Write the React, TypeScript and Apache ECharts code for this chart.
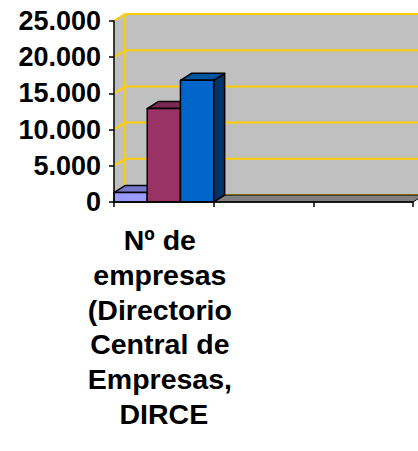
import React, { useEffect, useRef } from "react";
import * as echarts from "echarts";

const categories = ["Nº de empresas (Directorio Central de Empresas, DIRCE", "", ""];
const seriesNames = ["Serie 1", "Serie 2", "Serie 3"];
const serie1 = [1300];
const serie2 = [12900];
const serie3 = [16800];
const yTicks = [0, 5000, 10000, 15000, 20000, 25000];

const frontColors = ["#9999FF", "#993366", "#0066CC"];
const topColors = ["#7777CC", "#7A2952", "#0052A3"];
const sideColors = ["#4C4C80", "#4D1A33", "#003366"];

const DX = 11;
const DY = 7;
const FONT = "Liberation Sans";

function fmt(v: number) {
  return String(v).replace(/\B(?=(\d{3})+(?!\d))/g, ".");
}

export default function App() {
  const ref = useRef<HTMLDivElement>(null);
  useEffect(() => {
    if (!ref.current) return;
    const chart = echarts.init(ref.current, null, { renderer: "svg" });
    const allSeries = [serie1, serie2, serie3];
    const nSeries = allSeries.length;

    const wallSeries = {
      type: "custom",
      z: 1,
      silent: true,
      data: [[0, 0]],
      renderItem: (params: any, api: any) => {
        const band = api.size([1, 0])[0];
        const nCat = categories.length;
        const left = api.coord([0, 0])[0] - band / 2;
        const right = api.coord([nCat - 1, 0])[0] + band / 2;
        const y0 = api.coord([0, yTicks[0]])[1];
        const yTop = api.coord([0, yTicks[yTicks.length - 1]])[1];
        const children: any[] = [];
        children.push({
          type: "rect",
          shape: { x: left + DX, y: yTop - DY, width: right - left, height: y0 - yTop },
          style: { fill: "#C0C0C0" },
        });
        children.push({
          type: "polygon",
          shape: { points: [[left, y0], [left, yTop], [left + DX, yTop - DY], [left + DX, y0 - DY]] },
          style: { fill: "#C0C0C0" },
        });
        yTicks.forEach((t) => {
          const y = api.coord([0, t])[1];
          children.push({
            type: "polyline",
            shape: { points: [[left, y], [left + DX, y - DY], [right + DX, y - DY]] },
            style: { stroke: "#FFCC00", lineWidth: 2, fill: "none" },
          });
        });
        children.push({
          type: "line",
          shape: { x1: left + DX, y1: yTop - DY, x2: left + DX, y2: y0 - DY },
          style: { stroke: "#FFCC00", lineWidth: 2 },
        });
        children.push({
          type: "polygon",
          shape: { points: [[left, y0], [right, y0], [right + DX, y0 - DY], [left + DX, y0 - DY]] },
          style: { fill: "#808080", stroke: "#000", lineWidth: 1 },
        });
        return { type: "group", children };
      },
    };

    const barSeries = allSeries.map((vals, i) => ({
      type: "custom",
      name: seriesNames[i],
      z: 3 + i,
      encode: { x: 0, y: 1 },
      data: vals.map((v, c) => [c, v]),
      renderItem: (params: any, api: any) => {
        const c = api.value(0);
        const v = api.value(1);
        const base = api.coord([c, 0]);
        const top = api.coord([c, v]);
        const band = api.size([1, 0])[0];
        const bw = band / nSeries;
        const x0 = base[0] - band / 2 + i * bw;
        const x1 = x0 + bw;
        const yb = base[1];
        const yt = top[1];
        const stroke = { stroke: "#000", lineWidth: 1.5, lineJoin: "round" };
        return {
          type: "group",
          children: [
            {
              type: "polygon",
              shape: { points: [[x1, yt], [x1 + DX, yt - DY], [x1 + DX, yb - DY], [x1, yb]] },
              style: { fill: sideColors[i], ...stroke },
            },
            {
              type: "polygon",
              shape: { points: [[x0, yt], [x1, yt], [x1 + DX, yt - DY], [x0 + DX, yt - DY]] },
              style: { fill: topColors[i], ...stroke },
            },
            {
              type: "rect",
              shape: { x: x0, y: yt, width: bw, height: yb - yt },
              style: { fill: frontColors[i], ...stroke },
            },
          ],
        };
      },
    }));

    chart.setOption({
      animation: false,
      backgroundColor: "#FFFFFF",
      grid: {
        left: 114,
        top: 21,
        width: 299,
        height: 181,
        containLabel: false,
        outerBoundsMode: "none",
      },
      xAxis: {
        type: "category",
        data: categories,
        boundaryGap: true,
        axisLine: { show: true, lineStyle: { color: "#000", width: 1.5 } },
        axisTick: { show: true, length: 5, lineStyle: { color: "#000", width: 1.5 } },
        axisLabel: {
          interval: 0,
          color: "#000",
          fontFamily: FONT,
          fontWeight: "bold",
          fontSize: 28.5,
          lineHeight: 34.7,
          width: 165,
          overflow: "break",
          margin: 21,
        },
        splitLine: { show: false },
        z: 10,
      },
      yAxis: {
        type: "value",
        min: 0,
        max: 25000,
        interval: 5000,
        axisLine: { show: true, lineStyle: { color: "#000", width: 1.5 } },
        axisTick: { show: true, length: 5, lineStyle: { color: "#000", width: 1.5 } },
        axisLabel: {
          color: "#000",
          fontFamily: FONT,
          fontWeight: "bold",
          fontSize: 27,
          margin: 13,
          formatter: (v: number) => fmt(v),
        },
        splitLine: { show: false },
        z: 10,
      },
      series: [wallSeries, ...barSeries],
    });
    return () => chart.dispose();
  }, []);
  return (
    <div
      ref={ref}
      style={{ position: "fixed", left: 0, top: 0, width: 418, height: 451 }}
    />
  );
}
